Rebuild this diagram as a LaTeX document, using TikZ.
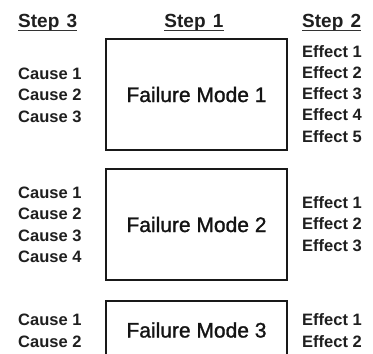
\documentclass[tikz,border=0pt]{standalone}
\usepackage{fontspec}
\setmainfont{Liberation Sans}
\newfontfamily\fmfont[FakeBold=1.2]{Liberation Sans}
\begin{document}
\begin{tikzpicture}[x=1bp,y=-1bp,
  fm/.style={draw=black!90,line width=2.2bp,minimum width=181bp,inner sep=0pt,
    font=\fmfont\fontsize{21bp}{24bp}\selectfont,text=black!92},
  item/.style={anchor=base west,inner sep=0pt,
    font=\fontsize{16.5bp}{19bp}\selectfont\bfseries,text=black!88},
  hdr/.style={inner sep=0pt,font=\fontsize{19bp}{22bp}\selectfont\bfseries,text=black!88},
  uline/.style={line width=1.4bp,draw=black!80}
]
\clip (0,0) rectangle (373,354);
\fill[white] (0,0) rectangle (373,354);
% boxes
\node[fm,minimum height=111bp] (fm1) at (196.5,94.5) {Failure Mode 1};
\node[fm,minimum height=111bp] (fm2) at (196.5,224.5) {Failure Mode 2};
\node[fm,minimum height=58bp] (fm3) at (196.5,330) {Failure Mode 3};
% headers
\node[hdr,anchor=base west] (s3) at (18,27) {Step\hspace{2bp} 3};
\node[hdr,anchor=base] (s1) at (194,27) {Step\hspace{2bp} 1};
\node[hdr,anchor=base west] (s2) at (302,27) {Step\hspace{2bp} 2};
\draw[uline] ([yshift=-3.2bp]s3.base west) -- ([yshift=-3.2bp]s3.base east);
\draw[uline] ([yshift=-3.2bp]s1.base west) -- ([yshift=-3.2bp]s1.base east);
\draw[uline] ([yshift=-3.2bp]s2.base west) -- ([yshift=-3.2bp]s2.base east);
% causes
\foreach \y [count=\i] in {79,100.5,122} \node[item] (ca\i) at (18,\y) {Cause \i};
\foreach \y [count=\i] in {198,219.5,241,262.5} \node[item] (cb\i) at (18,\y) {Cause \i};
\foreach \y [count=\i] in {325,347} \node[item] (cc\i) at (18,\y) {Cause \i};
% effects
\foreach \y [count=\i] in {57,78.3,99.6,120.9,142.2} \node[item] (ea\i) at (302,\y) {Effect \i};
\foreach \y [count=\i] in {208,229.5,251} \node[item] (eb\i) at (302,\y) {Effect \i};
\foreach \y [count=\i] in {325,347} \node[item] (ec\i) at (302,\y) {Effect \i};
\end{tikzpicture}
\end{document}
